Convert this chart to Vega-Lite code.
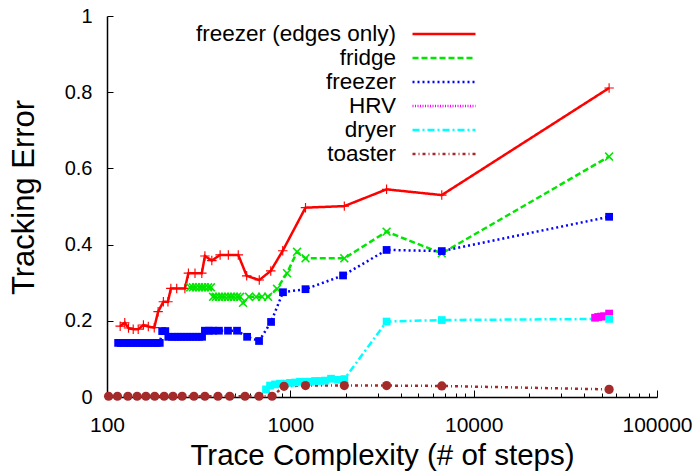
{
  "$schema": "https://vega.github.io/schema/vega-lite/v6.json",
  "width": 550,
  "height": 381,
  "autosize": {"type": "none"},
  "padding": {"left": 107, "top": 16, "right": 43, "bottom": 75},
  "background": "white",
  "config": {
    "view": {"stroke": null},
    "font": "Liberation Sans"
  },
  "data": {
    "values": [
      {"s": "freezer (edges only)", "x": 118, "y": 0.186},
      {"s": "freezer (edges only)", "x": 125, "y": 0.195},
      {"s": "freezer (edges only)", "x": 131, "y": 0.181},
      {"s": "freezer (edges only)", "x": 139, "y": 0.178},
      {"s": "freezer (edges only)", "x": 148, "y": 0.178},
      {"s": "freezer (edges only)", "x": 158, "y": 0.189},
      {"s": "freezer (edges only)", "x": 168, "y": 0.185},
      {"s": "freezer (edges only)", "x": 181, "y": 0.182},
      {"s": "freezer (edges only)", "x": 190, "y": 0.224},
      {"s": "freezer (edges only)", "x": 203, "y": 0.25},
      {"s": "freezer (edges only)", "x": 215, "y": 0.25},
      {"s": "freezer (edges only)", "x": 223, "y": 0.285},
      {"s": "freezer (edges only)", "x": 240, "y": 0.285},
      {"s": "freezer (edges only)", "x": 266, "y": 0.285},
      {"s": "freezer (edges only)", "x": 278, "y": 0.325},
      {"s": "freezer (edges only)", "x": 302, "y": 0.325},
      {"s": "freezer (edges only)", "x": 329, "y": 0.325},
      {"s": "freezer (edges only)", "x": 342, "y": 0.37},
      {"s": "freezer (edges only)", "x": 373, "y": 0.358},
      {"s": "freezer (edges only)", "x": 414, "y": 0.373},
      {"s": "freezer (edges only)", "x": 459, "y": 0.373},
      {"s": "freezer (edges only)", "x": 520, "y": 0.373},
      {"s": "freezer (edges only)", "x": 578, "y": 0.318},
      {"s": "freezer (edges only)", "x": 677, "y": 0.307},
      {"s": "freezer (edges only)", "x": 782, "y": 0.331},
      {"s": "freezer (edges only)", "x": 909, "y": 0.384},
      {"s": "freezer (edges only)", "x": 1210, "y": 0.497},
      {"s": "freezer (edges only)", "x": 1970, "y": 0.501},
      {"s": "freezer (edges only)", "x": 3350, "y": 0.545},
      {"s": "freezer (edges only)", "x": 6700, "y": 0.53},
      {"s": "freezer (edges only)", "x": 54800, "y": 0.811},

      {"s": "fridge", "x": 284, "y": 0.288},
      {"s": "fridge", "x": 294, "y": 0.288},
      {"s": "fridge", "x": 306, "y": 0.288},
      {"s": "fridge", "x": 318, "y": 0.288},
      {"s": "fridge", "x": 330, "y": 0.288},
      {"s": "fridge", "x": 342, "y": 0.288},
      {"s": "fridge", "x": 356, "y": 0.288},
      {"s": "fridge", "x": 369, "y": 0.288},
      {"s": "fridge", "x": 379, "y": 0.263},
      {"s": "fridge", "x": 393, "y": 0.263},
      {"s": "fridge", "x": 408, "y": 0.263},
      {"s": "fridge", "x": 424, "y": 0.263},
      {"s": "fridge", "x": 440, "y": 0.263},
      {"s": "fridge", "x": 457, "y": 0.263},
      {"s": "fridge", "x": 475, "y": 0.263},
      {"s": "fridge", "x": 493, "y": 0.263},
      {"s": "fridge", "x": 512, "y": 0.263},
      {"s": "fridge", "x": 532, "y": 0.263},
      {"s": "fridge", "x": 552, "y": 0.247},
      {"s": "fridge", "x": 595, "y": 0.263},
      {"s": "fridge", "x": 650, "y": 0.263},
      {"s": "fridge", "x": 701, "y": 0.263},
      {"s": "fridge", "x": 756, "y": 0.263},
      {"s": "fridge", "x": 846, "y": 0.284},
      {"s": "fridge", "x": 959, "y": 0.325},
      {"s": "fridge", "x": 1088, "y": 0.381},
      {"s": "fridge", "x": 1210, "y": 0.364},
      {"s": "fridge", "x": 1970, "y": 0.364},
      {"s": "fridge", "x": 3350, "y": 0.434},
      {"s": "fridge", "x": 6700, "y": 0.377},
      {"s": "fridge", "x": 54800, "y": 0.631},

      {"s": "freezer", "x": 115, "y": 0.142},
      {"s": "freezer", "x": 119, "y": 0.142},
      {"s": "freezer", "x": 124, "y": 0.142},
      {"s": "freezer", "x": 129, "y": 0.142},
      {"s": "freezer", "x": 134, "y": 0.142},
      {"s": "freezer", "x": 139, "y": 0.142},
      {"s": "freezer", "x": 144, "y": 0.142},
      {"s": "freezer", "x": 150, "y": 0.142},
      {"s": "freezer", "x": 155, "y": 0.142},
      {"s": "freezer", "x": 161, "y": 0.142},
      {"s": "freezer", "x": 167, "y": 0.142},
      {"s": "freezer", "x": 174, "y": 0.142},
      {"s": "freezer", "x": 181, "y": 0.142},
      {"s": "freezer", "x": 187, "y": 0.142},
      {"s": "freezer", "x": 194, "y": 0.142},
      {"s": "freezer", "x": 200, "y": 0.173},
      {"s": "freezer", "x": 208, "y": 0.173},
      {"s": "freezer", "x": 216, "y": 0.158},
      {"s": "freezer", "x": 226, "y": 0.158},
      {"s": "freezer", "x": 235, "y": 0.158},
      {"s": "freezer", "x": 244, "y": 0.158},
      {"s": "freezer", "x": 253, "y": 0.158},
      {"s": "freezer", "x": 263, "y": 0.158},
      {"s": "freezer", "x": 273, "y": 0.158},
      {"s": "freezer", "x": 284, "y": 0.158},
      {"s": "freezer", "x": 294, "y": 0.158},
      {"s": "freezer", "x": 306, "y": 0.158},
      {"s": "freezer", "x": 318, "y": 0.158},
      {"s": "freezer", "x": 330, "y": 0.158},
      {"s": "freezer", "x": 342, "y": 0.174},
      {"s": "freezer", "x": 360, "y": 0.174},
      {"s": "freezer", "x": 379, "y": 0.174},
      {"s": "freezer", "x": 408, "y": 0.174},
      {"s": "freezer", "x": 457, "y": 0.174},
      {"s": "freezer", "x": 512, "y": 0.174},
      {"s": "freezer", "x": 581, "y": 0.158},
      {"s": "freezer", "x": 675, "y": 0.147},
      {"s": "freezer", "x": 785, "y": 0.197},
      {"s": "freezer", "x": 912, "y": 0.275},
      {"s": "freezer", "x": 1210, "y": 0.283},
      {"s": "freezer", "x": 1939, "y": 0.319},
      {"s": "freezer", "x": 3350, "y": 0.386},
      {"s": "freezer", "x": 6700, "y": 0.383},
      {"s": "freezer", "x": 54800, "y": 0.473},

      {"s": "HRV", "x": 45950, "y": 0.208},
      {"s": "HRV", "x": 47710, "y": 0.21},
      {"s": "HRV", "x": 49550, "y": 0.211},
      {"s": "HRV", "x": 51450, "y": 0.212},
      {"s": "HRV", "x": 54800, "y": 0.219},

      {"s": "dryer", "x": 737, "y": 0.02},
      {"s": "dryer", "x": 775, "y": 0.03},
      {"s": "dryer", "x": 825, "y": 0.033},
      {"s": "dryer", "x": 879, "y": 0.035},
      {"s": "dryer", "x": 936, "y": 0.035},
      {"s": "dryer", "x": 996, "y": 0.037},
      {"s": "dryer", "x": 1061, "y": 0.038},
      {"s": "dryer", "x": 1129, "y": 0.04},
      {"s": "dryer", "x": 1203, "y": 0.04},
      {"s": "dryer", "x": 1281, "y": 0.04},
      {"s": "dryer", "x": 1364, "y": 0.042},
      {"s": "dryer", "x": 1452, "y": 0.042},
      {"s": "dryer", "x": 1546, "y": 0.043},
      {"s": "dryer", "x": 1667, "y": 0.048},
      {"s": "dryer", "x": 1820, "y": 0.045},
      {"s": "dryer", "x": 1970, "y": 0.047},
      {"s": "dryer", "x": 3350, "y": 0.198},
      {"s": "dryer", "x": 6700, "y": 0.202},
      {"s": "dryer", "x": 54800, "y": 0.205},

      {"s": "toaster", "x": 102, "y": 0.002},
      {"s": "toaster", "x": 114, "y": 0.002},
      {"s": "toaster", "x": 130, "y": 0.002},
      {"s": "toaster", "x": 146, "y": 0.002},
      {"s": "toaster", "x": 163, "y": 0.002},
      {"s": "toaster", "x": 182, "y": 0.002},
      {"s": "toaster", "x": 205, "y": 0.002},
      {"s": "toaster", "x": 229, "y": 0.002},
      {"s": "toaster", "x": 257, "y": 0.002},
      {"s": "toaster", "x": 298, "y": 0.002},
      {"s": "toaster", "x": 342, "y": 0.002},
      {"s": "toaster", "x": 403, "y": 0.002},
      {"s": "toaster", "x": 467, "y": 0.002},
      {"s": "toaster", "x": 566, "y": 0.002},
      {"s": "toaster", "x": 675, "y": 0.002},
      {"s": "toaster", "x": 795, "y": 0.002},
      {"s": "toaster", "x": 924, "y": 0.028},
      {"s": "toaster", "x": 1210, "y": 0.03},
      {"s": "toaster", "x": 1970, "y": 0.03},
      {"s": "toaster", "x": 3350, "y": 0.03},
      {"s": "toaster", "x": 6700, "y": 0.029},
      {"s": "toaster", "x": 54800, "y": 0.02}
    ]
  },
  "encoding": {
    "y": {
      "field": "y",
      "type": "quantitative",
      "scale": {"domain": [0, 1], "nice": false, "zero": false},
      "axis": {
        "values": [0, 0.2, 0.4, 0.6, 0.8, 1],
        "format": "~g",
        "grid": false,
        "domainColor": "black",
        "domainWidth": 1.5,
        "tickColor": "black",
        "tickWidth": 1,
        "tickSize": -6,
        "labelPadding": 21,
        "labelFontSize": 20,
        "labelColor": "black",
        "title": "Tracking Error",
        "titleFontSize": 31,
        "titleFontWeight": "normal",
        "titleColor": "black",
        "titlePadding": 24,
        "titleY": 181
      }
    }
  },
  "layer": [
    {
      "mark": {"type": "line", "strokeWidth": 2.5},
      "encoding": {
        "x": {
          "field": "x",
          "type": "quantitative",
          "scale": {"type": "log", "domain": [100, 100000], "nice": false},
          "axis": {
            "orient": "bottom",
            "values": [100, 1000, 10000, 100000],
            "format": "d",
            "grid": false,
            "domainColor": "black",
            "domainWidth": 1.5,
            "tickColor": "black",
            "tickSize": -7,
            "labelPadding": 24,
            "labelFontSize": 21,
            "labelColor": "black",
            "labelFlush": false,
            "title": "Trace Complexity (# of steps)",
            "titleFontSize": 29.5,
            "titleFontWeight": "normal",
            "titleColor": "black",
            "titleY": 44,
            "titleBaseline": "top"
          }
        },
        "color": {
          "field": "s",
          "type": "nominal",
          "sort": ["freezer (edges only)", "fridge", "freezer", "HRV", "dryer", "toaster"],
          "scale": {
            "domain": ["freezer (edges only)", "fridge", "freezer", "HRV", "dryer", "toaster"],
            "range": ["#ff0000", "#00e600", "#0000ff", "#ff00ff", "#00ffff", "#a52a2a"]
          },
          "legend": {
            "title": null,
            "orient": "none",
            "legendX": 325,
            "legendY": 6,
            "symbolType": "M-3,0L3,0",
            "symbolSize": 441,
            "symbolStrokeWidth": 2.5,
            "labelAlign": "right",
            "labelOffset": -60,
            "labelFontSize": 22.5,
            "labelColor": "black",
            "rowPadding": -2,
            "padding": 0,
            "labelLimit": 400
          }
        },
        "strokeDash": {
          "field": "s",
          "type": "nominal",
          "sort": ["freezer (edges only)", "fridge", "freezer", "HRV", "dryer", "toaster"],
          "scale": {
            "domain": ["freezer (edges only)", "fridge", "freezer", "HRV", "dryer", "toaster"],
            "range": [[1, 0], [6, 3], [2, 3], [1, 1.5], [7, 3, 2, 3], [3, 3, 1, 3]]
          },
          "legend": {
            "title": null,
            "orient": "none",
            "legendX": 325,
            "legendY": 6,
            "symbolType": "M-3,0L3,0",
            "symbolSize": 441,
            "symbolStrokeWidth": 2.5,
            "labelAlign": "right",
            "labelOffset": -60,
            "labelFontSize": 22.5,
            "labelColor": "black",
            "rowPadding": -2,
            "padding": 0,
            "labelLimit": 400
          }
        }
      }
    },
    {
      "transform": [{"filter": {"field": "s", "equal": "freezer (edges only)"}}],
      "mark": {"type": "point", "filled": true, "size": 90, "opacity": 1, "color": "#ff0000",
        "shape": "M-1,-0.12L-0.12,-0.12L-0.12,-1L0.12,-1L0.12,-0.12L1,-0.12L1,0.12L0.12,0.12L0.12,1L-0.12,1L-0.12,0.12L-1,0.12Z"},
      "encoding": {
        "x": {
          "field": "x",
          "type": "quantitative",
          "scale": {"type": "log", "domain": [100, 100000], "nice": false},
          "axis": {
            "orient": "bottom",
            "values": [200, 300, 400, 500, 600, 700, 800, 900, 2000, 3000, 4000, 5000, 6000, 7000, 8000, 9000, 20000, 30000, 40000, 50000, 60000, 70000, 80000, 90000],
            "labels": false,
            "domain": false,
            "grid": false,
            "tickColor": "black",
            "tickSize": -4,
            "title": null
          }
        }
      }
    },
    {
      "transform": [{"filter": {"field": "s", "equal": "fridge"}}],
      "mark": {"type": "point", "filled": true, "size": 80, "opacity": 1, "color": "#00e600",
        "shape": "M-1,-0.75L-0.75,-1L0,-0.25L0.75,-1L1,-0.75L0.25,0L1,0.75L0.75,1L0,0.25L-0.75,1L-1,0.75L-0.25,0Z"},
      "encoding": {
        "x": {"field": "x", "type": "quantitative", "scale": {"type": "log", "domain": [100, 100000], "nice": false}, "axis": null}
      }
    },
    {
      "transform": [{"filter": {"field": "s", "equal": "freezer"}}],
      "mark": {"type": "point", "filled": true, "size": 60, "opacity": 1, "color": "#0000ff", "shape": "square"},
      "encoding": {
        "x": {"field": "x", "type": "quantitative", "scale": {"type": "log", "domain": [100, 100000], "nice": false}, "axis": null}
      }
    },
    {
      "transform": [{"filter": {"field": "s", "equal": "HRV"}}],
      "mark": {"type": "point", "filled": true, "size": 60, "opacity": 1, "color": "#ff00ff", "shape": "square"},
      "encoding": {
        "x": {"field": "x", "type": "quantitative", "scale": {"type": "log", "domain": [100, 100000], "nice": false}, "axis": null}
      }
    },
    {
      "transform": [{"filter": {"field": "s", "equal": "dryer"}}],
      "mark": {"type": "point", "filled": true, "size": 60, "opacity": 1, "color": "#00ffff", "shape": "square"},
      "encoding": {
        "x": {"field": "x", "type": "quantitative", "scale": {"type": "log", "domain": [100, 100000], "nice": false}, "axis": null}
      }
    },
    {
      "transform": [{"filter": {"field": "s", "equal": "toaster"}}],
      "mark": {"type": "point", "filled": true, "size": 85, "opacity": 1, "color": "#a52a2a", "shape": "circle"},
      "encoding": {
        "x": {"field": "x", "type": "quantitative", "scale": {"type": "log", "domain": [100, 100000], "nice": false}, "axis": null}
      }
    }
  ],
  "resolve": {"axis": {"x": "independent"}}
}
